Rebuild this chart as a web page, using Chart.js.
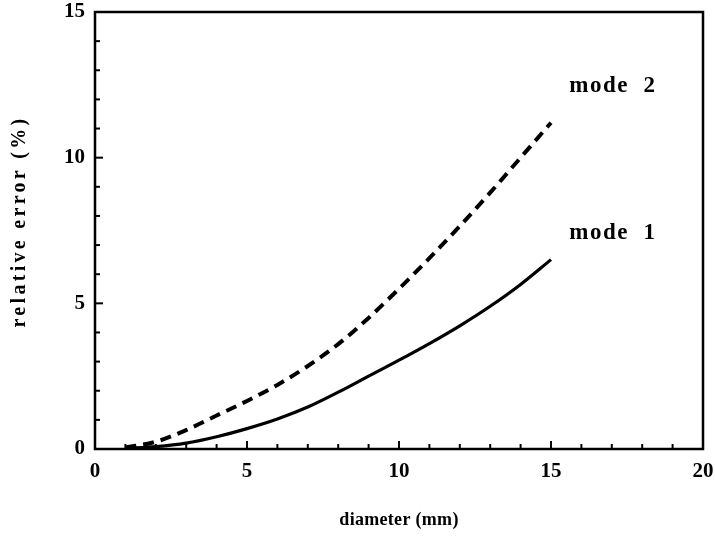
<!DOCTYPE html>
<html>
<head>
<meta charset="utf-8">
<script src="https://cdn.jsdelivr.net/npm/chart.js@4.4.1/dist/chart.umd.min.js"></script>
<style>
  html, body { margin: 0; padding: 0; background: #fff; }
  #wrap { width: 715px; height: 543px; }
</style>
</head>
<body>
<div id="wrap"><canvas id="errChart"></canvas></div>
<script>
// diameter (mm) and relative error (%) for the two modes
const diameters = [1, 2, 3, 4, 5, 6, 7, 8, 9, 10, 11, 12, 13, 14, 15];
const mode1 = [0.02, 0.08, 0.2, 0.42, 0.7, 1.03, 1.44, 1.95, 2.5, 3.05, 3.62, 4.23, 4.9, 5.65, 6.5];
const mode2 = [0.05, 0.25, 0.65, 1.15, 1.65, 2.2, 2.85, 3.6, 4.5, 5.5, 6.55, 7.65, 8.8, 10.0, 11.2];
const xTicks = [0, 5, 10, 15, 20];
const yTicks = [0, 5, 10, 15];

const serif = '"Liberation Serif", "Times New Roman", serif';

const toPoints = (xs, ys) => xs.map((x, i) => ({ x: x, y: ys[i] }));

// curve labels, anchored in data units
const curveLabels = [
  { text: 'mode  2', x: 15.6, y: 12.45 },
  { text: 'mode  1', x: 15.6, y: 7.4 }
];

const frameAndText = {
  id: 'frameAndText',
  afterDraw(chart) {
    const { ctx, chartArea: a, scales: { x, y } } = chart;
    ctx.save();
    ctx.strokeStyle = '#000';
    ctx.lineCap = 'butt';

    // inward tick marks, every unit, longer at labelled values
    ctx.lineWidth = 2;
    for (let v = 0; v <= 20; v++) {
      const px = x.getPixelForValue(v);
      const len = v % 5 === 0 ? 8 : 5;
      ctx.beginPath();
      ctx.moveTo(px, a.bottom);
      ctx.lineTo(px, a.bottom - len);
      ctx.stroke();
    }
    for (let v = 0; v <= 15; v++) {
      const py = y.getPixelForValue(v);
      const len = v % 5 === 0 ? 8 : 5;
      ctx.beginPath();
      ctx.moveTo(a.left, py);
      ctx.lineTo(a.left + len, py);
      ctx.stroke();
    }

    // box around the plot
    ctx.lineWidth = 2.5;
    ctx.strokeRect(a.left, a.top, a.right - a.left, a.bottom - a.top);

    ctx.fillStyle = '#000';

    // axis titles
    ctx.font = 'bold 18px ' + serif;
    ctx.letterSpacing = '0.3px';
    ctx.textAlign = 'center';
    ctx.textBaseline = 'middle';
    ctx.fillText('diameter (mm)', (a.left + a.right) / 2, 520);

    ctx.save();
    ctx.translate(20, (a.top + a.bottom) / 2 - 9);
    ctx.rotate(-Math.PI / 2);
    ctx.font = 'bold 20px ' + serif;
    ctx.letterSpacing = '3.3px';
    ctx.fillText('relative error (%)', 0, 0);
    ctx.restore();

    // curve labels
    ctx.font = 'bold 23px ' + serif;
    ctx.letterSpacing = '1.5px';
    ctx.textAlign = 'left';
    curveLabels.forEach(l => {
      ctx.fillText(l.text, x.getPixelForValue(l.x), y.getPixelForValue(l.y));
    });
    ctx.restore();
  }
};

new Chart(document.getElementById('errChart'), {
  type: 'line',
  data: {
    datasets: [
      {
        label: 'mode 1',
        data: toPoints(diameters, mode1),
        borderColor: '#000',
        borderWidth: 3.2,
        pointRadius: 0,
        cubicInterpolationMode: 'monotone'
      },
      {
        label: 'mode 2',
        data: toPoints(diameters, mode2),
        borderColor: '#000',
        borderWidth: 4,
        borderDash: [11, 7],
        pointRadius: 0,
        cubicInterpolationMode: 'monotone'
      }
    ]
  },
  options: {
    responsive: true,
    maintainAspectRatio: false,
    animation: false,
    events: [],
    layout: { padding: 0 },
    plugins: { legend: { display: false }, tooltip: { enabled: false } },
    scales: {
      x: {
        type: 'linear',
        min: 0,
        max: 20,
        afterBuildTicks: s => { s.ticks = xTicks.map(v => ({ value: v })); },
        afterFit: s => { s.height = 94; s.paddingRight = 12; },
        grid: { display: false, drawTicks: false },
        border: { display: false },
        ticks: { color: '#000', padding: 10, maxRotation: 0, font: { family: serif, size: 21, weight: 'bold' } }
      },
      y: {
        type: 'linear',
        min: 0,
        max: 15,
        afterBuildTicks: s => { s.ticks = yTicks.map(v => ({ value: v })); },
        afterFit: s => { s.width = 95; s.paddingTop = 12; },
        grid: { display: false, drawTicks: false },
        border: { display: false },
        ticks: { color: '#000', padding: 10, font: { family: serif, size: 21, weight: 'bold' } }
      }
    }
  },
  plugins: [frameAndText]
});
</script>
</body>
</html>
